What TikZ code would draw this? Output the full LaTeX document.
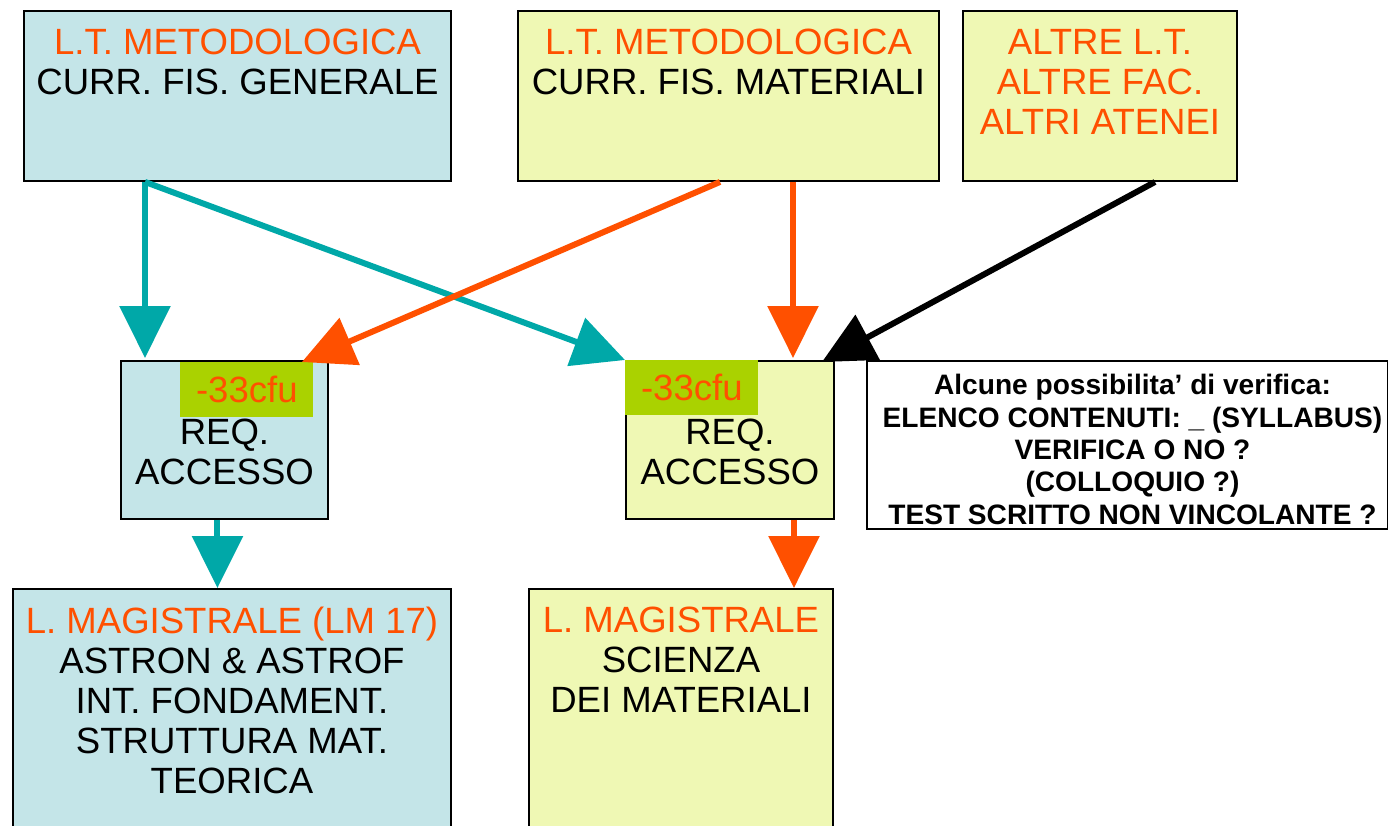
\documentclass[tikz,border=0pt]{standalone}
\usepackage{fontspec}
\setmainfont{Liberation Sans}
\usetikzlibrary{positioning, arrows.meta, calc}
\definecolor{boxblue}{HTML}{C4E5E8}
\definecolor{boxyellow}{HTML}{EFF8B4}
\definecolor{cfugreen}{HTML}{AAD200}
\definecolor{titleorange}{HTML}{FF5000}
\definecolor{arrowteal}{HTML}{00A8A8}
\newcommand{\orng}[1]{\textcolor{titleorange}{#1}}

\begin{document}
\begin{tikzpicture}[x=0.02cm, y=-0.02cm,
  box/.style={draw, line width=1.1pt, inner sep=0pt, anchor=north west},
  txt/.style={align=center, inner sep=0pt, anchor=north, font=\fontsize{20.8}{22.7}\selectfont},
  cfu/.style={fill=cfugreen, text=titleorange, inner sep=0pt, anchor=north west,
    minimum width=2.66cm, minimum height=1.1cm, font=\fontsize{20.8}{22.7}\selectfont},
  link/.style={line width=0.12cm, -{Triangle[length=1.04cm, width=1cm]}}]
  \useasboundingbox (0,0) rectangle (1388,825);

  % Drawing the boxes: name, top left corner, size, fill
  \foreach \nm/\x/\y/\w/\h/\col in {lta/23/10/427/170/boxblue, ltb/517/10/421/170/boxyellow,
      altre/962/10/274/170/boxyellow, reqa/120/360/207/158/boxblue, reqb/625/360/208/158/boxyellow,
      verif/866/360/521/168/white, lmast/12/588/438/260/boxblue, lmmat/528/588/304/260/boxyellow} {
    \node[box, fill=\col, minimum width=\w*0.02cm, minimum height=\h*0.02cm] (\nm) at (\x,\y) {};
  }

  % Texts of the boxes
  \node[txt] (lta-t) at ($(lta.north)+(0,19)$) {\orng{L.T. METODOLOGICA}\\CURR. FIS. GENERALE};
  \node[txt] (ltb-t) at ($(ltb.north)+(0,19)$) {\orng{L.T. METODOLOGICA}\\CURR. FIS. MATERIALI};
  \node[txt] (altre-t) at ($(altre.north)+(0,19)$) {\orng{ALTRE L.T.}\\\orng{ALTRE FAC.}\\\orng{ALTRI ATENEI}};
  \node[txt] (reqa-t) at ($(reqa.north)+(0,59)$) {REQ.\\ACCESSO};
  \node[txt] (reqb-t) at ($(reqb.north)+(0,59)$) {REQ.\\ACCESSO};
  \node[txt] (lmast-t) at ($(lmast.north)+(0,19)$) {\orng{L. MAGISTRALE (LM 17)}\\ASTRON \& ASTROF\\INT. FONDAMENT.\\STRUTTURA MAT.\\TEORICA};
  \node[txt] (lmmat-t) at ($(lmmat.north)+(0,19)$) {\orng{L. MAGISTRALE}\\SCIENZA\\DEI MATERIALI};

  % The -33cfu tags
  \node[cfu] (cfua) at (180,362) {-33cfu};
  \node[cfu] (cfub) at (625,360) {-33cfu};

  % Verification note, cut at the bottom of its box
  \begin{scope}
    \clip ($(verif.south west)+(1,-5)$) rectangle ($(verif.north east)+(-1,1)$);
    \node[txt, font=\fontsize{16}{18.4}\selectfont\bfseries] (verif-t) at ($(verif.north)+(5,14)$)
      {Alcune possibilita’ di verifica:\\ELENCO CONTENUTI: \_ (SYLLABUS)\\VERIFICA O NO ?\\(COLLOQUIO ?)\\TEST SCRITTO NON VINCOLANTE ?};
  \end{scope}

  % Arrows
  \draw[link, arrowteal] ($(lta.south west)+(122,0)$) -- ($(reqa.north west)+(25,-2)$);
  \draw[link, arrowteal] ($(lta.south west)+(122,0)$) -- (reqb.north west);
  \draw[link, titleorange] ($(ltb.south west)+(203,0)$) -- ($(reqa.north east)+(-27,2)$);
  \draw[link, titleorange] ($(ltb.south west)+(276,0)$) -- ($(reqb.north west)+(168,-2)$);
  \draw[link, black] ($(altre.south west)+(193,0)$) -- ($(reqb.north east)+(-13,2)$);
  \draw[link, arrowteal] ($(reqa.south)+(-7,0)$) coordinate (a1) -- (a1 |- lmast.north);
  \draw[link, titleorange] ($(reqb.south)+(64,0)$) coordinate (b1) -- (b1 |- lmmat.north);
\end{tikzpicture}
\end{document}
